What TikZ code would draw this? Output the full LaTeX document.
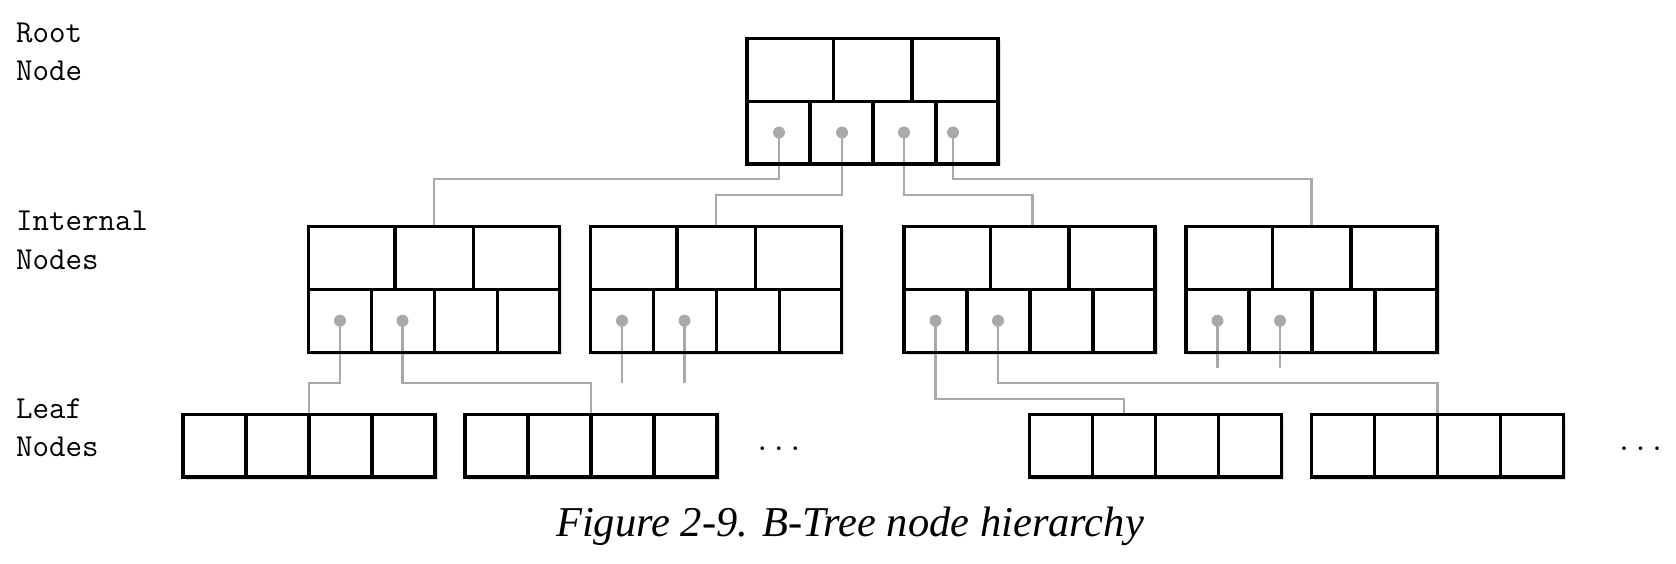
\documentclass[tikz,border=0pt]{standalone}
\usepackage{fontspec}
\setmainfont{Liberation Serif}
\usetikzlibrary{calc}
\definecolor{linkgray}{HTML}{A9A9A9}
\pgfdeclarelayer{back}
\pgfsetlayers{back,main}
\tikzset{
  bbox/.style={draw, line width=3.4pt, inner sep=0pt, outer sep=0pt,
    minimum width=251pt, minimum height=125.5pt, anchor=north west},
  lbox/.style={bbox, minimum width=252pt, minimum height=62.5pt},
  bline/.style={line width=3.4pt},
  conn/.style={draw=linkgray, line width=2.2pt},
  dot/.style={circle, fill=linkgray, inner sep=0pt, minimum size=12pt},
  lab/.style={font=\fontsize{32}{38}\selectfont\ttfamily, anchor=base west, inner sep=0pt},
  shadowbox/.style={fill=black, fill opacity=0.13},
}
\newcommand{\btnode}[3]{%
  \node[bbox] (#1) at (#2,#3) {};
  \draw[bline] (#1.west) -- (#1.east);
  \draw[bline] ($(#1.north west)+(86.5,0)$) -- ($(#1.west)+(86.5,0)$);
  \draw[bline] ($(#1.north west)+(165,0)$) -- ($(#1.west)+(165,0)$);
  \foreach \d in {63,126,189}
    \draw[bline] ($(#1.west)+(\d,0)$) -- ($(#1.south west)+(\d,0)$);
}
\newcommand{\leafnode}[3]{%
  \node[lbox] (#1) at (#2,#3) {};
  \foreach \d in {63,126,189}
    \draw[bline] ($(#1.north west)+(\d,0)$) -- ($(#1.south west)+(\d,0)$);
}
\begin{document}
\begin{tikzpicture}[x=1pt,y=-1pt]
\useasboundingbox (0,0) rectangle (1676,564);

% B-tree nodes
\btnode{R}{747}{38.5}
\btnode{I1}{308.5}{226.7}
\btnode{I2}{590.5}{226.7}
\btnode{I3}{904}{226.7}
\btnode{I4}{1186}{226.7}
\leafnode{L1}{183}{414.5}
\leafnode{L2}{465}{414.5}
\leafnode{L3}{1029.5}{414.5}
\leafnode{L4}{1311.5}{414.5}

% pointer positions
\coordinate (r1) at ($(R.north west)+(32,94)$);
\coordinate (r2) at ($(R.north west)+(95,94)$);
\coordinate (r3) at ($(R.north west)+(157,94)$);
\coordinate (r4) at ($(R.north west)+(206,94)$);
\foreach \n in {1,2,3,4}{
  \coordinate (i\n a) at ($(I\n.north west)+(31.5,94)$);
  \coordinate (i\n b) at ($(I\n.north west)+(94,94)$);
}
% bend levels
\coordinate (h1) at (0,179.3);
\coordinate (h2) at (0,195);
\coordinate (h3) at (0,382.7);
\coordinate (h4) at (0,398.7);
\coordinate (s1) at (0,383.3);
\coordinate (s2) at (0,368);
% entry points
\coordinate (I1in) at ($(I1.north)+(0,-1.7)$);
\coordinate (I2in) at ($(I2.north)+(0,-1.7)$);
\coordinate (I3in) at ($(I3.north)+(3,-1.7)$);
\coordinate (I4in) at ($(I4.north)+(0,-1.7)$);
\coordinate (L1in) at ($(L1.north)+(0,-1.7)$);
\coordinate (L2in) at ($(L2.north)+(0,-1.7)$);
\coordinate (L3in) at ($(L3.north west)+(94.5,-1.7)$);
\coordinate (L4in) at ($(L4.north)+(0,-1.7)$);

\begin{pgfonlayer}{back}
  \foreach \b in {R,I1,I2,I3,I4,L1,L2,L3,L4}{
    \fill[shadowbox] ($(\b.north west)+(2.5,2.5)$) rectangle ($(\b.south east)+(2.5,2.5)$);
    \fill[white] (\b.north west) rectangle (\b.south east);
  }
  \draw[conn] (r1) -- (r1 |- h1) -| (I1in);
  \draw[conn] (r2) -- (r2 |- h2) -| (I2in);
  \draw[conn] (r3) -- (r3 |- h2) -| (I3in);
  \draw[conn] (r4) -- (r4 |- h1) -| (I4in);
  \draw[conn] (i1a) -- (i1a |- h3) -| (L1in);
  \draw[conn] (i1b) -- (i1b |- h3) -| (L2in);
  \draw[conn] (i2a) -- (i2a |- s1);
  \draw[conn] (i2b) -- (i2b |- s1);
  \draw[conn] (i3a) -- (i3a |- h4) -| (L3in);
  \draw[conn] (i3b) -- (i3b |- h3) -| (L4in);
  \draw[conn] (i4a) -- (i4a |- s2);
  \draw[conn] (i4b) -- (i4b |- s2);
\end{pgfonlayer}

% pointer dots
\foreach \p in {r1,r2,r3,r4,i1a,i1b,i2a,i2b,i3a,i3b,i4a,i4b}
  \node[dot] (\p d) at (\p) {};

% level labels
\node[lab] (rootA) at (16,42.3) {Root};
\node[lab] (rootB) at (16,81) {Node};
\node[lab] (intA) at (16,230) {Internal};
\node[lab] (intB) at (16,269.3) {Nodes};
\node[lab] (leafA) at (16,418.3) {Leaf};
\node[lab] (leafB) at (16,456.7) {Nodes};

% ellipses
\node[lab] (ell1) at (754,450.5) {...};
\node[lab] (ell2) at (1615.6,450.5) {...};

% caption
\node[font=\fontsize{42.5}{46}\selectfont\itshape, anchor=base, inner sep=0pt] (cap)
  at (850,536.5) {Figure 2-9. B-Tree node hierarchy};
\end{tikzpicture}
\end{document}
